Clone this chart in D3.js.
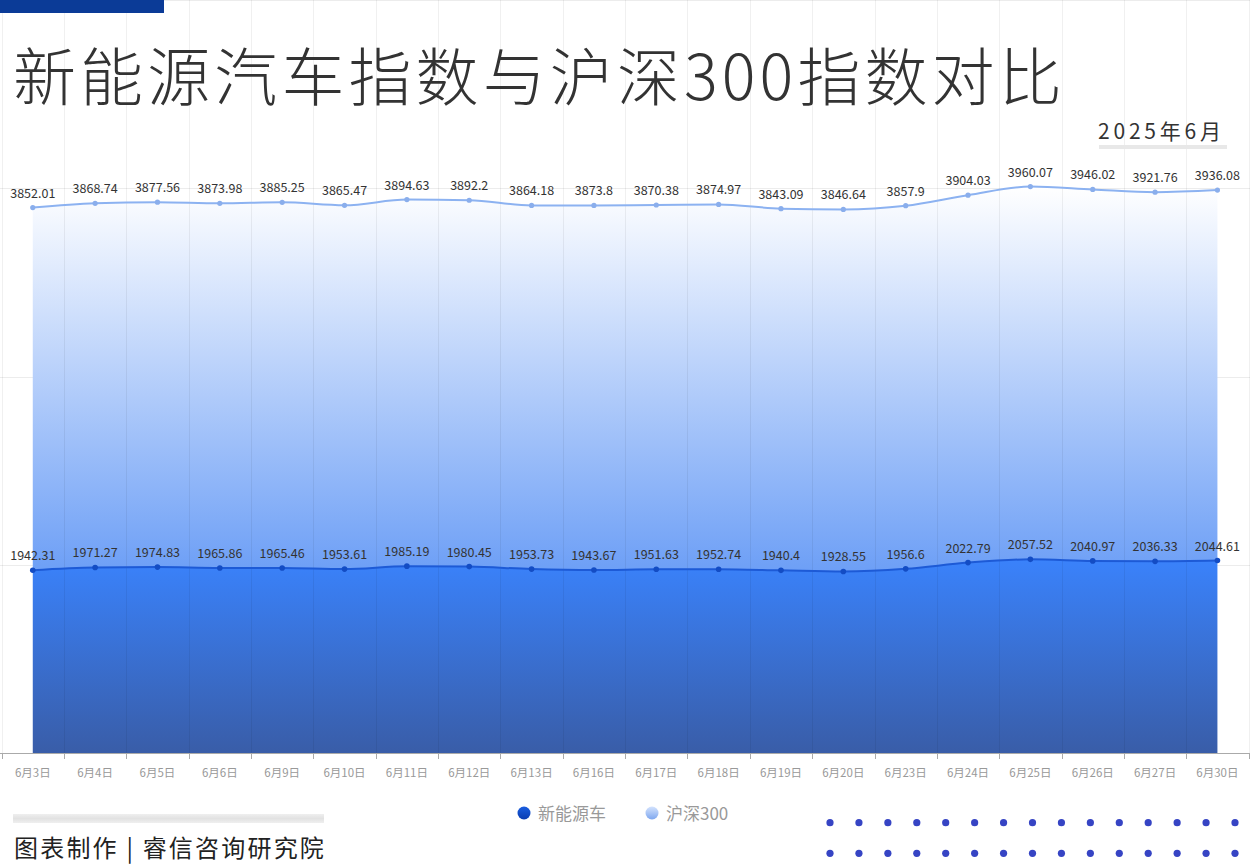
<!DOCTYPE html>
<html><head><meta charset="utf-8">
<script src="https://cdn.jsdelivr.net/npm/d3@7"></script>
<style>
html,body{margin:0;padding:0;background:#fff;}
svg{display:block;}
text{font-family:"Noto Sans CJK SC","Noto Sans",sans-serif;}
</style></head>
<body><svg id="c" width="1250" height="865"></svg>
<script>
const dates = ["6月3日","6月4日","6月5日","6月6日","6月9日","6月10日","6月11日","6月12日","6月13日","6月16日","6月17日","6月18日","6月19日","6月20日","6月23日","6月24日","6月25日","6月26日","6月27日","6月30日"];
const nevValues = [1942.31,1971.27,1974.83,1965.86,1965.46,1953.61,1985.19,1980.45,1953.73,1943.67,1951.63,1952.74,1940.4,1928.55,1956.6,2022.79,2057.52,2040.97,2036.33,2044.61];
const hs300Values = [3852.01,3868.74,3877.56,3873.98,3885.25,3865.47,3894.63,3892.2,3864.18,3873.8,3870.38,3874.97,3843.09,3846.64,3857.9,3904.03,3960.07,3946.02,3921.76,3936.08];
const seriesNames = ["新能源车","沪深300"];
const yTicks = [0,2000,4000,6000,8000];
const titleText = "新能源汽车指数与沪深300指数对比";
const periodText = "2025年6月";
const footerText = "图表制作 | 睿信咨询研究院";

const svg = d3.select("#c");
const defs = svg.append("defs");

const x = d3.scaleBand().domain(dates).range([1.6, 1248.6]);
const y = d3.scaleLinear().domain([0, 8000]).range([753, 0]);
const cx = d => x(d) + x.bandwidth()/2;

const table = dates.map((d,i)=>({date:d, nev:nevValues[i], hs:hs300Values[i]}));
const stack = d3.stack().keys(["nev","hs"])(table);

// gradients
const g1 = defs.append("linearGradient").attr("id","gNev").attr("gradientUnits","userSpaceOnUse")
  .attr("x1",0).attr("x2",0).attr("y1",y(d3.max(nevValues))).attr("y2",753);
g1.append("stop").attr("offset","0%").attr("stop-color","#3a82fb");
g1.append("stop").attr("offset","100%").attr("stop-color","#395da8");
const topHs = y(d3.max(stack[1], d=>d[1]));
const botHs = y(d3.min(stack[0], d=>d[1]));
const g2 = defs.append("linearGradient").attr("id","gHs").attr("gradientUnits","userSpaceOnUse")
  .attr("x1",0).attr("x2",0).attr("y1",topHs).attr("y2",botHs);
g2.append("stop").attr("offset","0%").attr("stop-color","#ffffff");
g2.append("stop").attr("offset","100%").attr("stop-color","#6d9ff6");
const lg1 = defs.append("linearGradient").attr("id","lgNev").attr("x1",0).attr("x2",0).attr("y1",0).attr("y2",1);
lg1.append("stop").attr("offset","0%").attr("stop-color","#1a5ee0");
lg1.append("stop").attr("offset","100%").attr("stop-color","#0a3cb0");
const lg2 = defs.append("linearGradient").attr("id","lgHs").attr("x1",0).attr("x2",0).attr("y1",0).attr("y2",1);
lg2.append("stop").attr("offset","0%").attr("stop-color","#d4e3fd");
lg2.append("stop").attr("offset","100%").attr("stop-color","#7ea7ef");

// horizontal grid
svg.append("g").selectAll("line").data(yTicks.filter(t=>t>0)).join("line")
  .attr("x1",0).attr("x2",1250).attr("y1",d=>Math.round(y(d))+0.5).attr("y2",d=>Math.round(y(d))+0.5)
  .attr("stroke","#ececec").attr("stroke-width",1);

// areas
const area = d3.area().x(d=>cx(d.data.date)).y0(d=>y(d[0])).y1(d=>y(d[1])).curve(d3.curveMonotoneX);
svg.append("path").datum(stack[1]).attr("d",area).attr("fill","url(#gHs)");
svg.append("path").datum(stack[0]).attr("d",area).attr("fill","url(#gNev)");

// vertical grid (category boundaries)
const bounds = dates.map(d=>x(d)).concat([x.range()[1]]);
svg.append("g").selectAll("line").data(bounds).join("line")
  .attr("x1",d=>Math.round(d)+0.5).attr("x2",d=>Math.round(d)+0.5).attr("y1",0).attr("y2",753)
  .attr("stroke","#000").attr("stroke-opacity",0.06);

// lines
const line = d3.line().x(d=>cx(d.data.date)).y(d=>y(d[1])).curve(d3.curveMonotoneX);
svg.append("path").datum(stack[1]).attr("d",line).attr("fill","none").attr("stroke","#8cb2f1").attr("stroke-width",2);
svg.append("path").datum(stack[0]).attr("d",line).attr("fill","none").attr("stroke","#1d5ad6").attr("stroke-width",2);

// markers
svg.append("g").selectAll("circle").data(stack[1]).join("circle")
  .attr("cx",d=>cx(d.data.date)).attr("cy",d=>y(d[1])).attr("r",2.6).attr("fill","#8aaeec");
svg.append("g").selectAll("circle").data(stack[0]).join("circle")
  .attr("cx",d=>cx(d.data.date)).attr("cy",d=>y(d[1])).attr("r",2.8).attr("fill","#134cc4");

// labels
const lbl = (data, key) => svg.append("g").selectAll("text").data(data).join("text")
  .attr("x",d=>cx(d.data.date)).attr("y",d=>y(d[1])-10)
  .attr("text-anchor","middle").attr("font-size",12.5).attr("fill","#333")
  .text(d=>d.data[key]);
lbl(stack[1],"hs");
lbl(stack[0],"nev");

// x axis
const xa = svg.append("g");
xa.append("line").attr("x1",0).attr("x2",1250).attr("y1",753.5).attr("y2",753.5).attr("stroke","#aaa");
xa.selectAll("line.t").data(bounds).join("line").attr("class","t")
  .attr("x1",d=>Math.round(d)+0.5).attr("x2",d=>Math.round(d)+0.5).attr("y1",753).attr("y2",759).attr("stroke","#aaa");
xa.selectAll("text").data(dates).join("text")
  .attr("x",d=>cx(d)).attr("y",777).attr("text-anchor","middle")
  .attr("font-size",11.5).attr("fill","#999").text(d=>d);

// top bar and title
svg.append("rect").attr("x",0).attr("y",0).attr("width",164).attr("height",13).attr("fill","#0b3b97");
svg.append("text").attr("x",13).attr("y",100).attr("font-size",63).attr("font-weight",300)
  .attr("letter-spacing",4.1).attr("fill","#333").text(titleText);
svg.append("text").attr("x",1098).attr("y",139).attr("font-size",21).attr("letter-spacing",3.8)
  .attr("fill","#333").text(periodText);
svg.append("rect").attr("x",1099).attr("y",145).attr("width",128).attr("height",4).attr("fill","#e8e8e8");

// legend
const leg = [{n:seriesNames[0],cx:524,fill:"url(#lgNev)"},{n:seriesNames[1],cx:652,fill:"url(#lgHs)"}];
const lg = svg.append("g");
lg.selectAll("circle").data(leg).join("circle").attr("cx",d=>d.cx).attr("cy",813).attr("r",6.5).attr("fill",d=>d.fill);
lg.selectAll("text").data(leg).join("text").attr("x",d=>d.cx+14).attr("y",819.5).attr("font-size",17)
  .attr("fill","#999").text(d=>d.n);

// footer
const fg = defs.append("linearGradient").attr("id","fg").attr("x1",0).attr("x2",0).attr("y1",0).attr("y2",1);
fg.append("stop").attr("offset","0%").attr("stop-color","#efefef");
fg.append("stop").attr("offset","50%").attr("stop-color","#e2e2e2");
fg.append("stop").attr("offset","100%").attr("stop-color","#efefef");
svg.append("rect").attr("x",13).attr("y",814).attr("width",311).attr("height",9).attr("fill","url(#fg)");
svg.append("text").attr("x",14).attr("y",857).attr("font-size",24).attr("letter-spacing",2.2)
  .attr("fill","#222").text(footerText);

// decorative dots
const dotCols = d3.range(15), dotRows = [822.7, 853.3];
const dx = d3.scaleLinear().domain([0,14]).range([830,1235]);
svg.append("g").selectAll("circle").data(dotRows.flatMap(r=>dotCols.map(c=>({r,c})))).join("circle")
  .attr("cx",d=>dx(d.c)).attr("cy",d=>d.r).attr("r",3.6).attr("fill","#3644c4");
</script></body></html>
